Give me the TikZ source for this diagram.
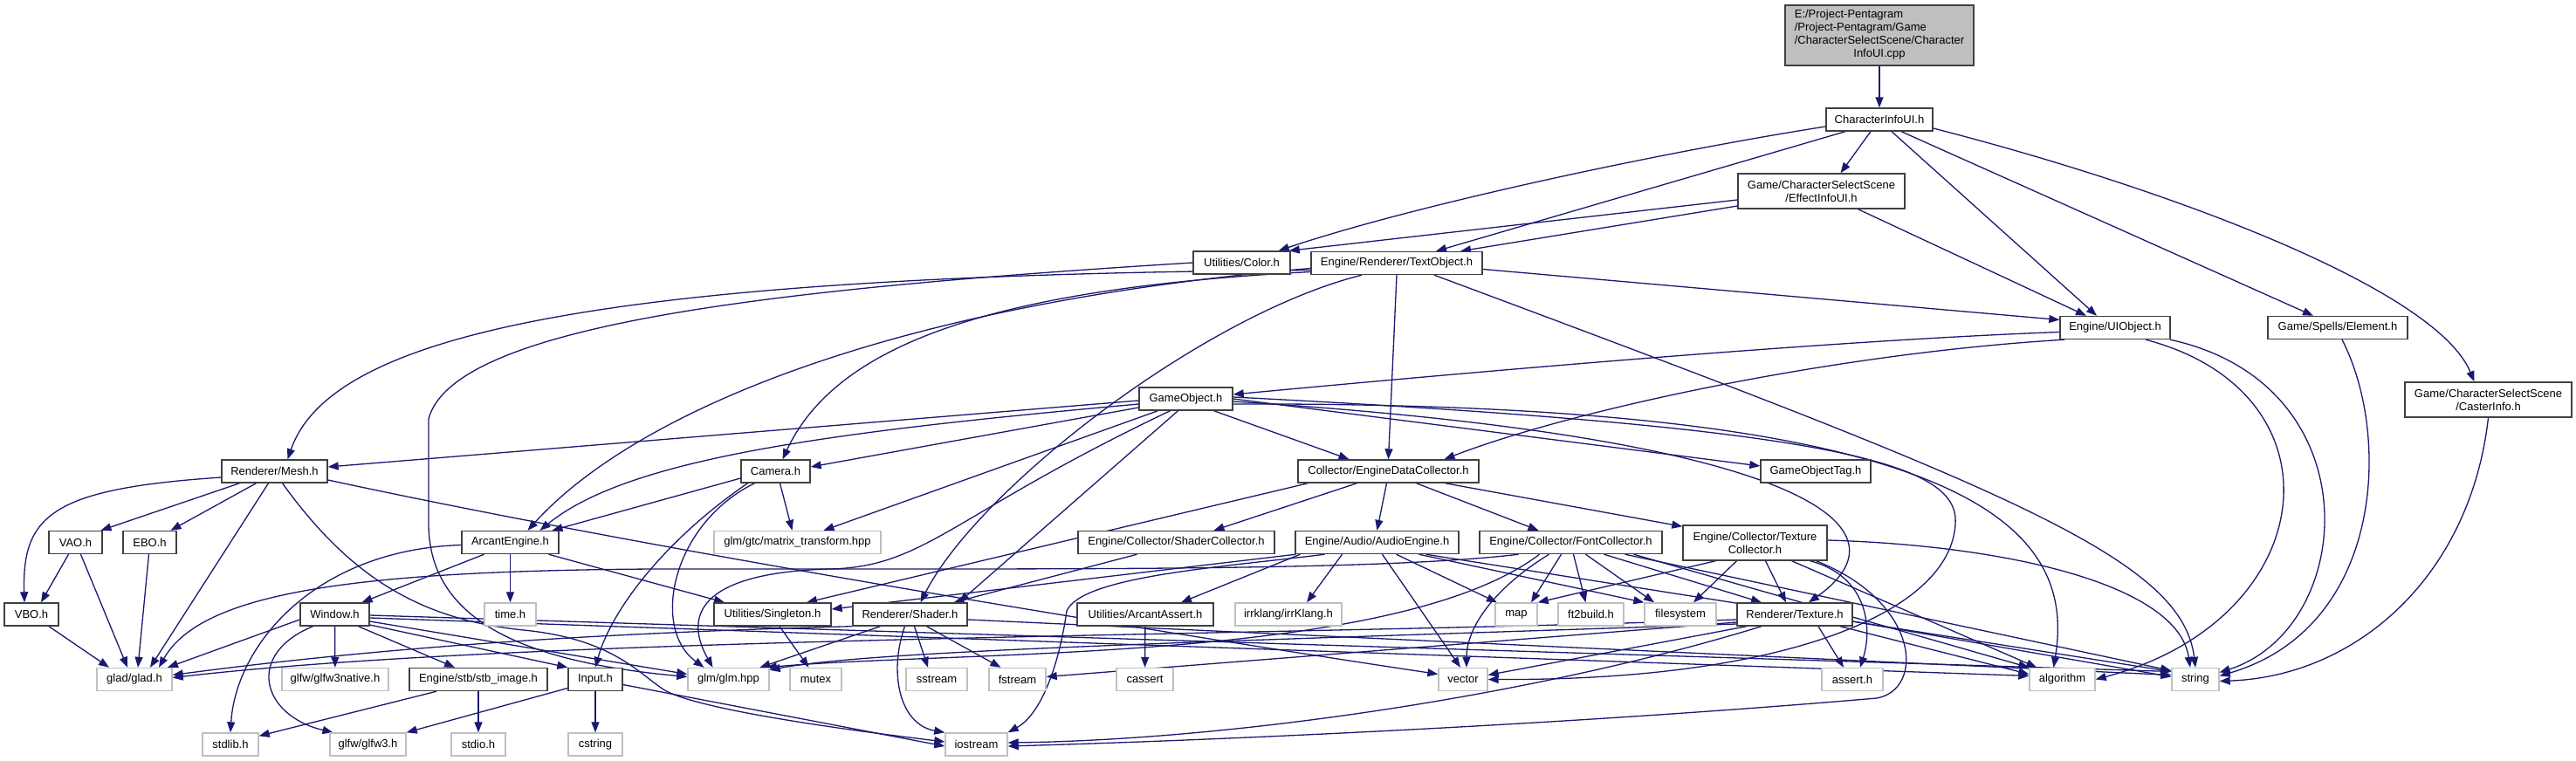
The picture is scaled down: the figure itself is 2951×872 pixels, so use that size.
\documentclass[tikz,border=0pt]{standalone}
\usepackage{fontspec}
\newfontfamily\graphfont{Liberation Sans}
\usetikzlibrary{arrows.meta, backgrounds}
\definecolor{depEdge}{HTML}{191970}
\definecolor{depFrame}{HTML}{404040}
\definecolor{sysFrame}{HTML}{BFBFBF}
\definecolor{srcFill}{HTML}{BFBFBF}

\begin{document}
\begin{tikzpicture}[x=1pt, y=-1pt,
  hbox/.style={draw=depFrame, line width=1.4pt, fill=white, minimum height=26pt,
    inner sep=1pt, align=center, font=\graphfont\fontsize{13}{15}\selectfont},
  sysbox/.style={hbox, draw=sysFrame},
  dep/.style={draw=depEdge, line width=1.3pt, -{Triangle[length=12pt, width=9pt]}}]

  \useasboundingbox (0,0) rectangle (2951,872);

  % source file and project headers
  \node[hbox, fill=srcFill, minimum width=216pt, minimum height=69pt] (root) at (2153,40.5)
    {\begin{tabular}{@{}l@{}}E:/Project-Pentagram\\/Project-Pentagram/Game\\/CharacterSelectScene/Character\\\multicolumn{1}{@{}c@{}}{InfoUI.cpp}\end{tabular}};
  \node[hbox, minimum width=122pt] (cinfo) at (2153,137) {CharacterInfoUI.h};
  \node[hbox, minimum width=191pt, minimum height=40pt] (effect) at (2086.5,219) {Game/CharacterSelectScene\\/EffectInfoUI.h};
  \node[hbox, minimum width=111pt] (color) at (1422.5,301) {Utilities/Color.h};
  \node[hbox, minimum width=196pt] (textobj) at (1600,301.5) {Engine/Renderer/TextObject.h};
  \node[hbox, minimum width=126pt] (uiobj) at (2423,375.5) {Engine/UIObject.h};
  \node[hbox, minimum width=160pt] (element) at (2678,375.5) {Game/Spells/Element.h};
  \node[hbox, minimum width=191pt, minimum height=40pt] (caster) at (2850.5,458) {Game/CharacterSelectScene\\/CasterInfo.h};
  \node[hbox, minimum width=107pt] (gameobj) at (1358.5,457) {GameObject.h};
  \node[hbox, minimum width=121pt] (mesh) at (314.5,540) {Renderer/Mesh.h};
  \node[hbox, minimum width=79pt] (camera) at (888.5,540) {Camera.h};
  \node[hbox, minimum width=207pt] (edc) at (1590.5,540) {Collector/EngineDataCollector.h};
  \node[hbox, minimum width=126pt] (gotag) at (2080,540) {GameObjectTag.h};
  \node[hbox, minimum width=61pt] (vao) at (86.5,621.5) {VAO.h};
  \node[hbox, minimum width=61pt] (ebo) at (171.5,621.5) {EBO.h};
  \node[hbox, minimum width=111pt] (arcant) at (584.5,621.5) {ArcantEngine.h};
  \node[sysbox, minimum width=191pt] (mattr) at (913.5,621.5) {glm/gtc/matrix\_transform.hpp};
  \node[hbox, minimum width=225pt] (shcoll) at (1347.5,621.5) {Engine/Collector/ShaderCollector.h};
  \node[hbox, minimum width=187pt] (audio) at (1577.5,621.5) {Engine/Audio/AudioEngine.h};
  \node[hbox, minimum width=209pt] (fontcoll) at (1799.5,621.5) {Engine/Collector/FontCollector.h};
  \node[hbox, minimum width=165pt, minimum height=40pt] (texcoll) at (2010.5,622) {Engine/Collector/Texture\\Collector.h};
  \node[hbox, minimum width=62pt] (vbo) at (36,704) {VBO.h};
  \node[hbox, minimum width=79pt] (window) at (383.5,704) {Window.h};
  \node[sysbox, minimum width=59pt] (timeh) at (584.5,704) {time.h};
  \node[hbox, minimum width=134pt] (singleton) at (885,704) {Utilities/Singleton.h};
  \node[hbox, minimum width=131pt] (shader) at (1042.5,704) {Renderer/Shader.h};
  \node[hbox, minimum width=156pt] (aassert) at (1312,704) {Utilities/ArcantAssert.h};
  \node[sysbox, minimum width=122pt] (irrk) at (1476,704) {irrklang/irrKlang.h};
  \node[sysbox, minimum width=48pt] (map) at (1737,704) {map};
  \node[sysbox, minimum width=75pt] (ft2) at (1822.5,704) {ft2build.h};
  \node[sysbox, minimum width=82pt] (fsys) at (1925,704) {filesystem};
  \node[hbox, minimum width=132pt] (texture) at (2056,704) {Renderer/Texture.h};
  \node[sysbox, minimum width=86pt] (glad) at (154,778.5) {glad/glad.h};
  \node[sysbox, minimum width=122pt] (glfwn) at (384,778.5) {glfw/glfw3native.h};
  \node[hbox, minimum width=158pt] (stb) at (548,778.5) {Engine/stb/stb\_image.h};
  \node[hbox, minimum width=62pt] (input) at (682,778.5) {Input.h};
  \node[sysbox, minimum width=93pt] (glmh) at (834.5,778.5) {glm/glm.hpp};
  \node[sysbox, minimum width=59pt] (mutex) at (934.5,778.5) {mutex};
  \node[sysbox, minimum width=70pt] (sstream) at (1073,778.5) {sstream};
  \node[sysbox, minimum width=65pt] (fstream) at (1165.5,778.5) {fstream};
  \node[sysbox, minimum width=65pt] (cassert) at (1311.5,778.5) {cassert};
  \node[sysbox, minimum width=56pt] (vector) at (1676,778.5) {vector};
  \node[sysbox, minimum width=70pt] (asserth) at (2122,778.5) {assert.h};
  \node[sysbox, minimum width=75pt] (algo) at (2362.5,778.5) {algorithm};
  \node[sysbox, minimum width=54pt] (string) at (2515,778.5) {string};
  \node[sysbox, minimum width=64pt] (stdlib) at (264,853) {stdlib.h};
  \node[sysbox, minimum width=87pt] (glfw3) at (421.5,853) {glfw/glfw3.h};
  \node[sysbox, minimum width=62pt] (stdio) at (548,853) {stdio.h};
  \node[sysbox, minimum width=62pt] (cstring) at (682,853) {cstring};
  \node[sysbox, minimum width=71pt] (iostream) at (1118.5,853) {iostream};

  \begin{scope}[on background layer]
  \fill[white] (0,0) rectangle (2951,872);

  % top of the graph
  \draw[dep] (root) -- (cinfo);
  \draw[dep] ([yshift=-8pt]cinfo.west) .. controls (1900,175) and (1620,235) .. ([xshift=-14pt]color.north east);
  \draw[dep] ([xshift=-39pt]cinfo.south) -- ([xshift=45pt]textobj.north);
  \draw[dep] ([xshift=-10pt]cinfo.south) -- ([xshift=22pt]effect.north);
  \draw[dep] ([xshift=14pt]cinfo.south) -- ([xshift=-21pt]uiobj.north);
  \draw[dep] ([xshift=25pt]cinfo.south) -- ([xshift=-28pt]element.north);
  \draw[dep] ([yshift=-10pt]cinfo.east) .. controls (2480,215) and (2790,330) .. ([xshift=-16pt]caster.north);
  \draw[dep] ([yshift=-10pt]effect.west) -- ([xshift=-2pt]color.north east);
  \draw[dep] ([yshift=-17pt]effect.west) -- ([xshift=73pt]textobj.north);
  \draw[dep] ([xshift=42pt]effect.south) -- ([xshift=-33pt]uiobj.north);

  \draw[dep] ([yshift=-8pt]textobj.west) .. controls (700,315) and (380,380) .. ([xshift=15pt]mesh.north);
  \draw[dep] ([yshift=-10pt]textobj.west) .. controls (1150,330) and (960,390) .. ([xshift=8pt]camera.north);
  \draw[dep] ([yshift=-6pt]textobj.west) .. controls (1000,350) and (720,480) .. ([xshift=20pt]arcant.north);
  \draw[dep] ([xshift=-40pt]textobj.south) .. controls (1380,360) and (1120,560) .. ([xshift=12pt]shader.north);
  \draw[dep] (textobj.south) -- (edc.north);
  \draw[dep] ([xshift=43pt]textobj.south) .. controls (2300,560) and (2500,640) .. (string.north);
  \draw[dep] ([yshift=-7pt]textobj.east) -- ([yshift=9pt]uiobj.west);

  \draw[dep] ([yshift=-5pt]uiobj.west) .. controls (2100,390) and (1700,425) .. ([yshift=5pt]gameobj.east);
  \draw[dep] ([xshift=-58pt]uiobj.south) .. controls (2100,405) and (1800,470) .. ([xshift=64pt]edc.north);
  \draw[dep] ([xshift=35pt]uiobj.south) .. controls (2690,450) and (2660,710) .. (algo.east);
  \draw[dep] ([xshift=63pt]uiobj.south) .. controls (2720,440) and (2700,720) .. ([yshift=8pt]string.east);
  \draw[dep] ([xshift=5pt]element.south) .. controls (2740,500) and (2730,720) .. ([yshift=4pt]string.east);
  \draw[dep] (caster.south) .. controls (2830,660) and (2700,775) .. ([yshift=-2pt]string.east);

  % game object
  \draw[dep] ([yshift=-2pt]gameobj.west) -- ([yshift=5pt]mesh.east);
  \draw[dep] ([yshift=-6pt]gameobj.west) .. controls (950,495) and (720,525) .. ([xshift=34pt]arcant.north);
  \draw[dep] ([yshift=-10pt]gameobj.west) -- ([yshift=5pt]camera.east);
  \draw[dep] ([xshift=-32pt]gameobj.south) -- ([xshift=30pt]mattr.north);
  \draw[dep] ([xshift=-18pt]gameobj.south) .. controls (1090,590) and (1060,650) .. (950,652)
    .. controls (810,656) and (780,700) .. ([xshift=-18pt]glmh.north);
  \draw[dep] ([xshift=-9pt]gameobj.south) -- ([xshift=56pt]shader.north);
  \draw[dep] ([xshift=32pt]gameobj.south) -- ([xshift=-45pt]edc.north);
  \draw[dep] (gameobj.east) -- ([yshift=6pt]gotag.west);
  \draw[dep] ([yshift=-3pt]gameobj.east) .. controls (2050,500) and (2200,600) .. ([xshift=16pt]texture.north);
  \draw[dep] ([yshift=2pt]gameobj.east) .. controls (2100,490) and (2245,530) .. (2240,600)
    .. controls (2235,700) and (2050,780) .. (vector.east);
  \draw[dep] ([yshift=-6pt]gameobj.east) .. controls (2250,460) and (2380,600) .. ([xshift=-10pt]algo.north);

  % renderer side
  \draw[dep] ([yshift=-7pt]mesh.west) .. controls (60,560) and (25,590) .. ([xshift=-8pt]vbo.north);
  \draw[dep] ([xshift=-40pt]mesh.south) -- ([xshift=29pt]vao.north);
  \draw[dep] ([xshift=-21pt]mesh.south) -- ([xshift=24pt]ebo.north);
  \draw[dep] ([xshift=-7pt]mesh.south) -- ([xshift=18pt]glad.north);
  \draw[dep] ([xshift=9pt]mesh.south) .. controls (400,660) and (480,710) .. (600,722)
    .. controls (700,732) and (730,770) .. (760,790) .. controls (800,815) and (1000,840) .. ([yshift=3pt]iostream.west);
  \draw[dep] ([yshift=-10pt]mesh.east) .. controls (700,620) and (1200,705) .. ([yshift=6pt]vector.west);
  \draw[dep] ([xshift=-8pt]vao.south) -- ([xshift=11pt]vbo.north);
  \draw[dep] ([xshift=6pt]vao.south) -- ([xshift=-8pt]glad.north);
  \draw[dep] ([xshift=-1pt]ebo.south) -- ([xshift=4pt]glad.north);
  \draw[dep] ([xshift=20pt]vbo.south) -- ([xshift=-29pt]glad.north);
  \draw[dep] (color.west) .. controls (900,330) and (520,370) .. (491,480) -- (491,600)
    .. controls (491,720) and (620,760) .. ([yshift=3pt]glmh.west);

  \draw[dep] ([yshift=-8pt]camera.west) -- ([xshift=48pt]arcant.north);
  \draw[dep] ([xshift=5pt]camera.south) -- ([xshift=-6pt]mattr.north);
  \draw[dep] ([xshift=-24pt]camera.south) .. controls (770,600) and (745,720) .. ([xshift=-28pt]glmh.north);
  \draw[dep] ([xshift=-32pt]camera.south) .. controls (760,620) and (700,700) .. (input.north);

  \draw[dep] ([xshift=-30pt]arcant.south) -- ([xshift=31pt]window.north);
  \draw[dep] (arcant) -- (timeh);
  \draw[dep] ([xshift=44pt]arcant.south) -- ([xshift=-55pt]singleton.north);
  \draw[dep] ([yshift=-3pt]arcant.west) .. controls (360,630) and (270,740) .. (stdlib.north);

  \draw[dep] ([yshift=-6pt]window.west) -- ([xshift=38pt]glad.north);
  \draw[dep] (window) -- (glfwn);
  \draw[dep] ([xshift=-25pt]window.south) .. controls (280,750) and (300,820) .. ([xshift=-40pt]glfw3.north);
  \draw[dep] ([xshift=27pt]window.south) -- ([xshift=-27pt]stb.north);
  \draw[dep] ([yshift=-12pt]window.east) -- (input.north west);
  \draw[dep] ([yshift=-8pt]window.east) -- ([yshift=6pt]glmh.west);
  \draw[dep] ([yshift=-4pt]window.east) -- ([yshift=4pt]algo.west);
  \draw[dep] ([yshift=-1pt]window.east) -- ([yshift=9pt]string.west);

  \draw[dep] ([yshift=-10pt]input.west) -- (glfw3.north east);
  \draw[dep] (input) -- (cstring);
  \draw[dep] ([yshift=-6pt]input.east) -- ([yshift=-2pt]iostream.west);
  \draw[dep] ([xshift=-48pt]stb.south) -- ([yshift=-4pt]stdlib.north east);
  \draw[dep] (stb) -- (stdio);

  % collectors
  \draw[dep] ([xshift=-92pt]edc.south) -- ([xshift=39pt]singleton.north);
  \draw[dep] ([xshift=-36pt]edc.south) -- ([xshift=43pt]shcoll.north);
  \draw[dep] ([xshift=-2pt]edc.south) -- (audio.north);
  \draw[dep] ([xshift=32pt]edc.south) -- ([xshift=-37pt]fontcoll.north);
  \draw[dep] ([xshift=65pt]edc.south) -- ([yshift=-2pt]texcoll.north west);
  \draw[dep] ([xshift=-45pt]shcoll.south) -- ([xshift=50pt]shader.north);

  \draw[dep] (shader.south west) .. controls (700,725) and (450,740) .. ([yshift=5pt]glad.east);
  \draw[dep] ([xshift=-34pt]shader.south) -- ([xshift=36pt]glmh.north);
  \draw[dep] ([xshift=5pt]shader.south) -- ([xshift=-10pt]sstream.north);
  \draw[dep] ([xshift=19pt]shader.south) -- ([xshift=-19pt]fstream.north);
  \draw[dep] ([xshift=-6pt]shader.south) .. controls (1018,770) and (1030,830) .. (iostream.north west);
  \draw[dep] ([yshift=-6pt]shader.east) -- ([yshift=5pt]string.west);
  \draw[dep] ([xshift=8pt]singleton.south) -- ([xshift=-8pt]mutex.north);
  \draw[dep] (aassert) -- (cassert);

  \draw[dep] ([xshift=-40pt]audio.south) -- ([xshift=21pt]irrk.north);
  \draw[dep] ([xshift=6pt]audio.south) -- ([xshift=-3pt]vector.north);
  \draw[dep] ([xshift=22pt]audio.south) -- ([xshift=-22pt]map.north);
  \draw[dep] ([xshift=48pt]audio.south) -- (fsys.north west);
  \draw[dep] ([xshift=-88pt]audio.south) -- ([xshift=41pt]aassert.north);
  \draw[dep] ([xshift=-60pt]audio.south) .. controls (1400,650) and (1240,660) .. (1222,700)
    .. controls (1212,770) and (1190,820) .. (iostream.north east);
  \draw[dep] ([xshift=-93pt]audio.south) -- ([yshift=6pt]singleton.east);
  \draw[dep] ([xshift=56pt]audio.south) -- ([yshift=9pt]string.west);

  \draw[dep] ([xshift=-60pt]fontcoll.south) .. controls (1600,652) and (1300,652) .. (1000,652) -- (750,652)
    .. controls (400,654) and (230,680) .. ([xshift=28pt]glad.north);
  \draw[dep] ([xshift=-36pt]fontcoll.south) .. controls (1600,760) and (1100,745) .. ([xshift=-4pt]glmh.north east);
  \draw[dep] ([xshift=-25pt]fontcoll.south) .. controls (1710,675) and (1680,720) .. ([xshift=4pt]vector.north);
  \draw[dep] ([xshift=-11pt]fontcoll.south) -- ([xshift=17pt]map.north);
  \draw[dep] ([xshift=3pt]fontcoll.south) -- ([xshift=-6pt]ft2.north);
  \draw[dep] ([xshift=17pt]fontcoll.south) -- ([xshift=-30pt]fsys.north);
  \draw[dep] ([xshift=38pt]fontcoll.south) -- ([xshift=-38pt]texture.north);
  \draw[dep] ([xshift=62pt]fontcoll.south) -- ([yshift=10pt]string.west);
  \draw[dep] ([xshift=72pt]fontcoll.south) -- (algo.north west);

  \draw[dep] ([xshift=-45pt]texcoll.south) -- (map.north east);
  \draw[dep] ([xshift=-21pt]texcoll.south) -- ([xshift=15pt]fsys.north);
  \draw[dep] ([xshift=12pt]texcoll.south) -- ([xshift=-10pt]texture.north);
  \draw[dep] ([xshift=63pt]texcoll.south) .. controls (2140,660) and (2145,720) .. ([xshift=9pt]asserth.north);
  \draw[dep] ([xshift=42pt]texcoll.south) -- ([xshift=9pt]algo.north west);
  \draw[dep] ([yshift=3pt]texcoll.east) .. controls (2300,625) and (2495,670) .. ([xshift=-6pt]string.north);
  \draw[dep] ([xshift=70pt]texcoll.south) .. controls (2200,690) and (2205,790) .. (2150,800)
    .. controls (1800,830) and (1400,848) .. ([yshift=-2pt]iostream.east);

  \draw[dep] ([xshift=27pt]texture.south) -- ([xshift=-10pt]asserth.north);
  \draw[dep] ([xshift=-55pt]texture.south) -- ([yshift=5pt]vector.east);
  \draw[dep] ([xshift=-38pt]texture.south) .. controls (1750,800) and (1400,848) .. ([yshift=2pt]iostream.east);
  \draw[dep] ([yshift=-6pt]texture.west) .. controls (1400,730) and (600,730) .. ([yshift=2pt]glad.east);
  \draw[dep] ([yshift=-9pt]texture.west) -- ([yshift=3pt]fstream.east);
  \draw[dep] ([yshift=-11pt]texture.west) .. controls (1400,735) and (1000,745) .. ([yshift=-3pt]glmh.north east);
  \draw[dep] ([xshift=52pt]texture.south) -- ([yshift=6pt]algo.west);
  \draw[dep] ([yshift=-8pt]texture.east) -- ([yshift=3pt]string.west);
  \end{scope}
\end{tikzpicture}
\end{document}
